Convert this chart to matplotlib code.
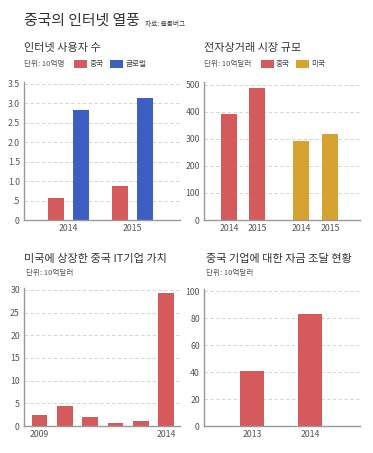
import matplotlib
matplotlib.use("Agg")
import matplotlib.pyplot as plt
from matplotlib.patches import Rectangle

plt.rcParams['font.family'] = ['Noto Sans CJK KR', 'DejaVu Sans']

# ---- data ----
title = "중국의 인터넷 열풍"
source = "자료: 블룸버그"

users_years = ["2014", "2015"]
users_china = [0.56, 0.88]
users_global = [2.84, 3.14]
users_ticks = [0, 0.5, 1.0, 1.5, 2.0, 2.5, 3.0, 3.5]
users_ticklabels = ["0", ".5", "1.0", "1.5", "2.0", "2.5", "3.0", "3.5"]

ecom_years = ["2014", "2015"]
ecom_china = [393, 487]
ecom_us = [292, 318]
ecom_ticks = [0, 100, 200, 300, 400, 500]

ipo_years = ["2009", "2010", "2011", "2012", "2013", "2014"]
ipo_values = [2.4, 4.5, 2.0, 0.6, 1.2, 29.3]
ipo_ticks = [0, 5, 10, 15, 20, 25, 30]

fund_years = ["2013", "2014"]
fund_values = [41, 83]
fund_ticks = [0, 20, 40, 60, 80, 100]

RED = "#d45a5b"
BLUE = "#3d5fc1"
GOLD = "#d7a22f"
TXT = "#333333"
TICK = "#555555"

W, H = 373, 453
fig = plt.figure(figsize=(W / 100, H / 100), dpi=100)
fig.patch.set_facecolor("white")


def fx(x):
    return x / W


def fy(y):
    return 1 - y / H


def add_ax(left, top, right, bottom):
    ax = fig.add_axes([fx(left), fy(bottom), (right - left) / W, (bottom - top) / H])
    for s in ["top", "right"]:
        ax.spines[s].set_visible(False)
    for s in ["left", "bottom"]:
        ax.spines[s].set_color("#999999")
        ax.spines[s].set_linewidth(1.0)
    ax.tick_params(length=0, labelsize=6.3, colors=TICK, pad=3)
    ax.yaxis.grid(True, linestyle=(0, (4, 3)), color="#cccccc", linewidth=0.6)
    ax.set_axisbelow(True)
    return ax


def ftext(x, y, s, size, color=TXT, **kw):
    fig.text(fx(x), fy(y), s, fontsize=size, color=color, va="center", ha="left", **kw)


def legend_patch(x, y, color):
    fig.patches.append(Rectangle((fx(x), fy(y + 4)), 13 / W, 8 / H, transform=fig.transFigure,
                                 facecolor=color, edgecolor="none"))


# ---- header ----
ftext(24, 21, title, 10.7)
ftext(145, 24, source, 4.8, color="#444444")

# ---- chart 1: internet users ----
ftext(24, 48, "인터넷 사용자 수", 8)
ftext(24, 64, "단위: 10억명", 5.5, color="#555555")
legend_patch(74, 64, RED)
ftext(90, 64, "중국", 5.5, color="#444444")
legend_patch(110, 64, BLUE)
ftext(126, 64, "글로벌", 5.5, color="#444444")

ax1 = add_ax(24, 82, 180, 220)
g = [0, 1]
off = 0.195
bw = 0.25
ax1.bar([i - off for i in g], users_china, width=bw, color=RED)
ax1.bar([i + off for i in g], users_global, width=bw, color=BLUE)
ax1.set_xlim(-0.695, 1.742)
ax1.set_ylim(0, 3.55)
ax1.set_yticks(users_ticks)
ax1.set_yticklabels(users_ticklabels)
ax1.set_xticks(g)
ax1.set_xticklabels(users_years)

# ---- chart 2: e-commerce ----
ftext(204, 48, "전자상거래 시장 규모", 8)
ftext(204, 64, "단위: 10억달러", 5.5, color="#555555")
legend_patch(261, 64, RED)
ftext(276, 64, "중국", 5.5, color="#444444")
legend_patch(296, 64, GOLD)
ftext(311, 64, "미국", 5.5, color="#444444")

ax2 = add_ax(204, 82, 360, 220)
pos_c = [0 - 0.193, 0 + 0.193]
pos_u = [1 - 0.2, 1 + 0.2]
bw2 = 0.22
ax2.bar(pos_c, ecom_china, width=bw2, color=RED)
ax2.bar(pos_u, ecom_us, width=bw2, color=GOLD)
ax2.set_xlim(-0.538, 1.614)
ax2.set_ylim(0, 511)
ax2.set_yticks(ecom_ticks)
ax2.set_xticks(pos_c + pos_u)
ax2.set_xticklabels(ecom_years + ecom_years)

# ---- chart 3: IPO value ----
ftext(24, 259, "미국에 상장한 중국 IT기업 가치", 8)
ftext(26, 273, "단위: 10억달러", 5.5, color="#555555")
ax3 = add_ax(24, 288, 180, 426)
x3 = list(range(len(ipo_years)))
ax3.bar(x3, ipo_values, width=0.62, color=RED)
ax3.set_xlim(-0.61, 5.55)
ax3.set_ylim(0, 30.4)
ax3.set_yticks(ipo_ticks)
ax3.set_xticks([0, 5])
ax3.set_xticklabels([ipo_years[0], ipo_years[-1]])

# ---- chart 4: funding ----
ftext(206, 259, "중국 기업에 대한 자금 조달 현황", 8)
ftext(206, 273, "단위: 10억달러", 5.5, color="#555555")
ax4 = add_ax(204, 289, 360, 426)
x4 = list(range(len(fund_years)))
ax4.bar(x4, fund_values, width=0.414, color=RED)
ax4.set_xlim(-0.828, 1.862)
ax4.set_ylim(0, 101.5)
ax4.set_yticks(fund_ticks)
ax4.set_xticks(x4)
ax4.set_xticklabels(fund_years)

fig.savefig("out.png", dpi=100, facecolor="white")
